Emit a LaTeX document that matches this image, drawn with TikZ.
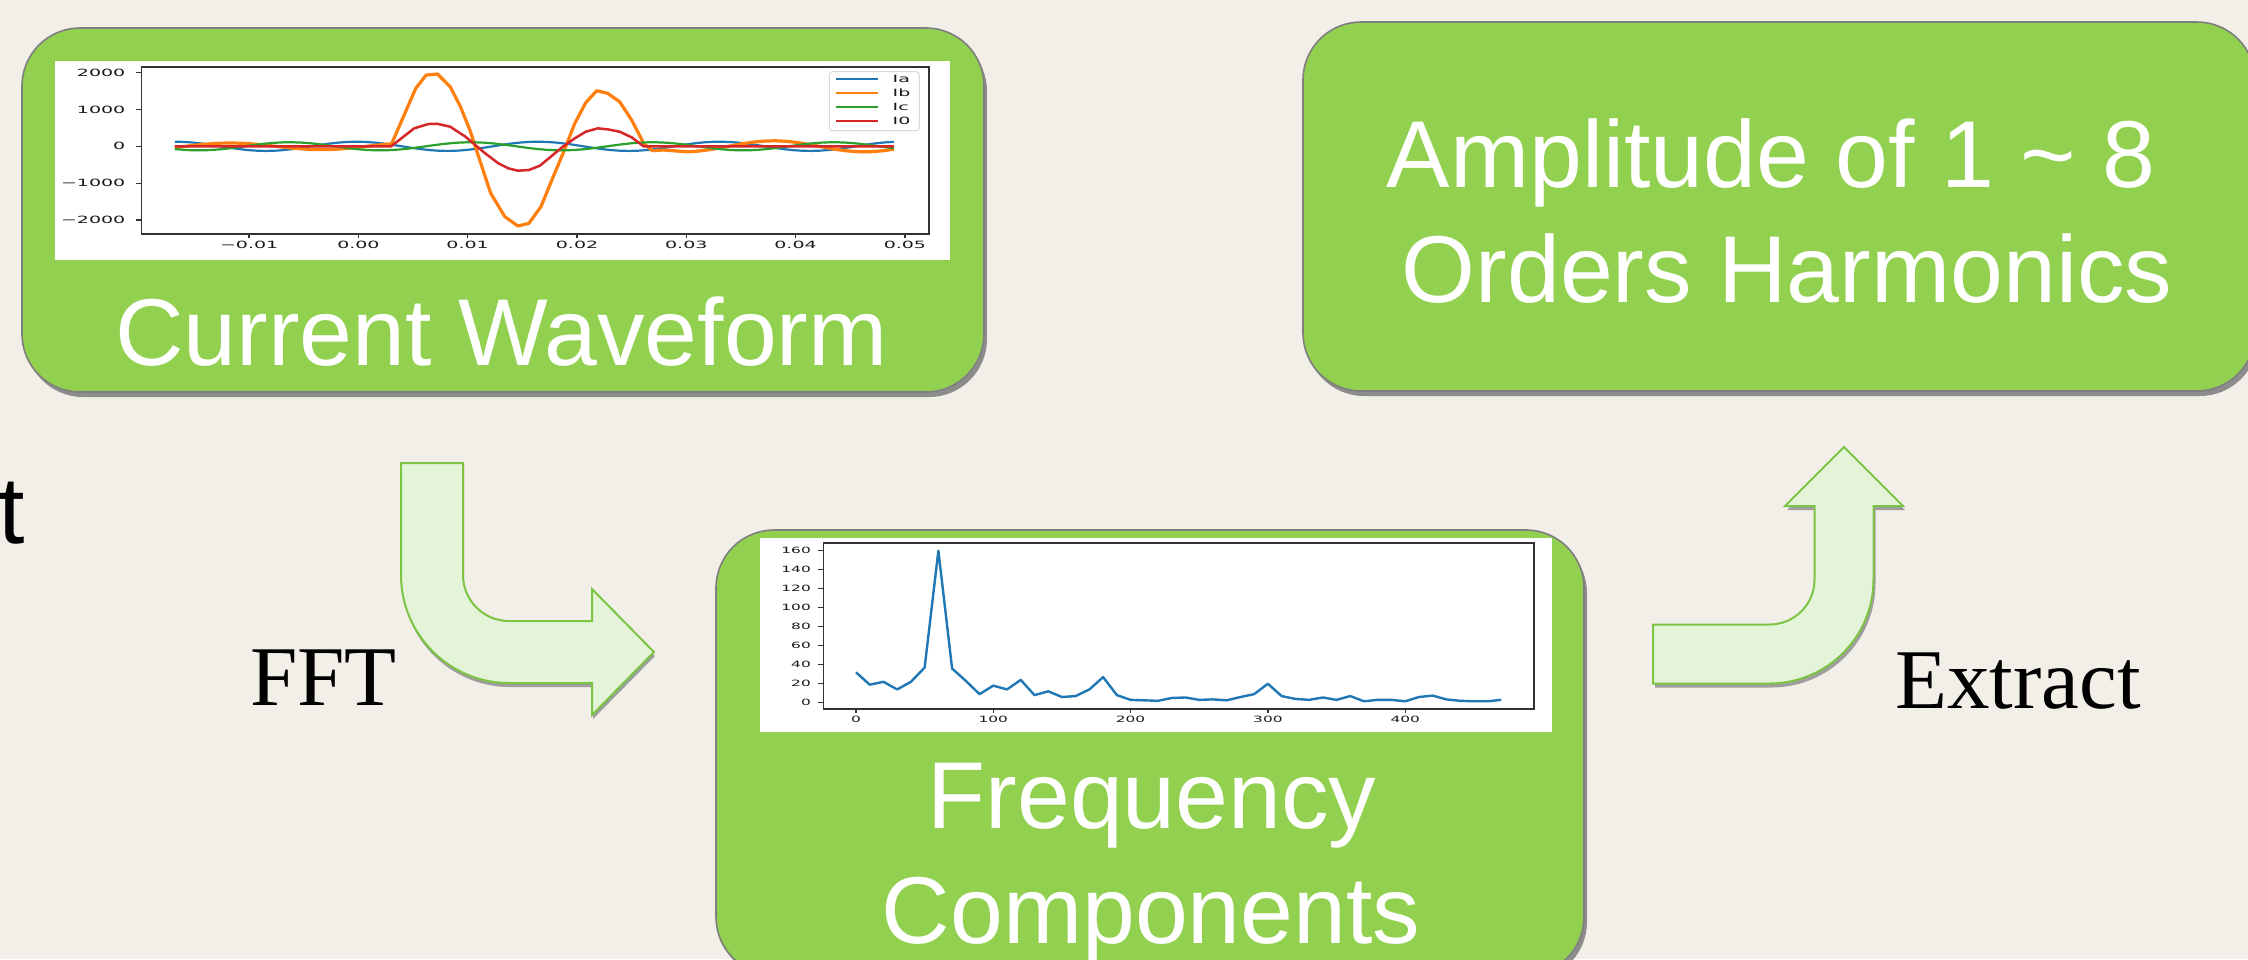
\documentclass[tikz,border=0pt]{standalone}
\usepackage{fontspec}
\setmainfont{Liberation Sans}
\newfontfamily\serifl{Liberation Serif}
\newfontfamily\plotfnt{DejaVu Sans}
\usepackage{graphicx}
\usetikzlibrary{shadows}
\definecolor{bgc}{RGB}{242,239,233}
\definecolor{boxg}{HTML}{92D050}
\definecolor{boxb}{HTML}{7F7F7F}
\definecolor{arrf}{HTML}{E4F4D9}
\definecolor{arrd}{HTML}{7CC443}
\definecolor{mblue}{HTML}{1F77B4}
\definecolor{morange}{HTML}{FF7F0E}
\definecolor{mgreen}{HTML}{2CA02C}
\definecolor{mred}{HTML}{D62728}
\newcommand\wft[1]{\scalebox{1.9}[1]{\plotfnt\fontsize{2.845}{3.2}\selectfont #1}}
\newcommand\fqt[1]{\scalebox{1.78}[1]{\plotfnt\fontsize{2.46}{2.8}\selectfont #1}}
\newcommand\fftpath{(401,463) -- (463,463) -- (463,575) .. controls (463,600.4) and (483.6,621) .. (509,621) -- (592,621) -- (592,589) -- (654,652) -- (592,715) -- (592,683) -- (509,683) .. controls (449.4,683) and (401,634.6) .. (401,575) -- cycle}
\newcommand\extpath{(1653,624.5) -- (1769.5,624.5) .. controls (1794.4,624.5) and (1814.5,604.4) .. (1814.5,579.5) -- (1814.5,506) -- (1785,506) -- (1844,447) -- (1903,506) -- (1873.5,506) -- (1873.5,579.5) .. controls (1873.5,636.9) and (1826.9,683.5) .. (1769.5,683.5) -- (1653,683.5) -- cycle}
\begin{document}
\begin{tikzpicture}[x=0.1mm,y=-0.1mm,
  greenbox/.style={draw=boxb, line width=0.16mm, fill=boxg, rounded corners=5.8mm, inner sep=0, outer sep=0,
     drop shadow={shadow xshift=0.3mm, shadow yshift=-0.5mm, fill=black!45, opacity=1}},
  boxtxt/.style={text=white, font=\fontsize{27.03}{32.72}\selectfont, inner sep=0, anchor=base},
  lbl/.style={font=\serifl\fontsize{24.19}{29}\selectfont, inner sep=0, anchor=base},
  bentarrow/.style={fill=arrf, draw=arrd, line width=0.2mm, line join=miter},
  arrshadow/.style={fill=black!38},
  spine/.style={draw=black!80, line width=0.15mm},
  tick/.style={draw=black!80, line width=0.14mm},
  tl/.style={inner sep=0, text=black!90},
  curve/.style={line width=0.22mm, line join=round},
]
\useasboundingbox (0,0) rectangle (2248,959);
\fill[bgc] (0,0) rectangle (2248,959);

% boxes
\node[greenbox, minimum width=96.2mm, minimum height=36.4mm] (cw) at (503,210) {};
\node[greenbox, minimum width=86.8mm, minimum height=44.5mm] (fc) at (1150,752.5) {};
\node[greenbox, minimum width=95.2mm, minimum height=36.9mm] (ah) at (1779,206.5) {};

% ---- waveform plot ----
\fill[white] (55,61) rectangle (950,260);
\draw[spine] (141.6,67) rectangle (929,234);
\foreach \v/\s [count=\i] in {2000/2000,1000/1000,0/0,-1000/−1000,-2000/−2000}{
  \draw[tick] (135.5,{146.3-0.0369*\v}) -- (141.6,{146.3-0.0369*\v});
  \node[tl, anchor=east] (wy\i) at (126,{146.3-0.0369*\v}) {\wft{\s}};
}
\foreach \t/\s [count=\i] in {-0.01/−0.01,0/0.00,0.01/0.01,0.02/0.02,0.03/0.03,0.04/0.04,0.05/0.05}{
  \draw[tick] ({358.4+10930*\t},234) -- ({358.4+10930*\t},238);
  \node[tl, anchor=north] (wx\i) at ({358.4+10930*\t},240.5) {\wft{\s}};
}
\begin{scope}[shift={(358.4,146.3)}, x=1.093mm, y=0.00369mm]
  \draw[curve, mblue] plot[domain=-16.8:49, samples=80] (\x,{125*cos(21.687*(\x+0.16))});
  \draw[curve, morange, line width=0.32mm] plot[domain=-16.8:3.04, samples=24] (\x,{90*cos(21.687*(\x+11.7))})
    -- plot coordinates {(5.25,1572) (6.2,1932) (7.24,1959) (8.4,1615) (9.34,1073) (10.2,440) (11.1,-371) (12.1,-1268) (13.4,-1908) (14.6,-2160) (15.6,-2087) (16.7,-1637) (17.7,-913) (18.85,-100) (19.8,623) (20.8,1182) (21.8,1507) (22.8,1436) (23.9,1209) (25,713) (26.1,81) (26.9,-119) (27.9,-100)}
    -- plot[domain=30.1:49, samples=22] (\x,{150*cos(21.687*(\x-38))});
  \draw[curve, mgreen] plot[domain=-16.8:49, samples=80] (\x,{110*cos(21.687*(\x+6.3))});
  \draw[curve, mred, line width=0.25mm] plot coordinates {(-16.8,0) (3,0) (5.1,487) (6.4,604) (7.2,612) (8.4,531) (9.8,260) (11.6,-190) (12.8,-460) (13.7,-596) (14.6,-661) (15.6,-642) (16.6,-526) (17.6,-282) (18.7,-11) (19.8,217) (20.8,396) (21.9,487) (22.8,460) (23.9,396) (25,244) (26.1,0) (49,0)};
\end{scope}
% legend
\draw[black!15, fill=white, line width=0.1mm, rounded corners=0.3mm] (829.3,71.7) rectangle (919.3,130.7);
\foreach \c/\s/\yy [count=\i] in {mblue/Ia/79,morange/Ib/93,mgreen/Ic/107,mred/I0/120.7}{
  \draw[\c, line width=0.2mm] (836,\yy) -- (878,\yy);
  \node[tl, anchor=west] (lg\i) at (892,\yy) {\wft{\s}};
}

% ---- frequency plot ----
\fill[white] (760,538) rectangle (1552,732);
\draw[spine] (823.4,543) rectangle (1534,709);
\foreach \v [count=\i] in {0,20,...,160}{
  \draw[tick] (817.7,{702.7-0.95*\v}) -- (823.4,{702.7-0.95*\v});
  \node[tl, anchor=east] (fy\i) at (811.5,{702.7-0.95*\v}) {\fqt{\v}};
}
\foreach \f [count=\i] in {0,100,...,400}{
  \draw[tick] ({856+1.373*\f},709) -- ({856+1.373*\f},713);
  \node[tl, anchor=north] (fx\i) at ({856+1.373*\f},715.5) {\fqt{\f}};
}
\begin{scope}[shift={(856,702.7)}, x=0.1373mm, y=0.095mm]
  \draw[curve, mblue, line width=0.24mm] plot coordinates {(0,32) (10,19) (20,22) (30,14) (40,22) (50,37) (60,160) (70,36) (80,23) (90,9) (100,18) (110,14) (120,24) (130,8) (140,12) (150,6) (160,7) (170,14) (180,27) (190,8) (200,3) (210,2.5) (220,2) (230,5) (240,5.5) (250,3) (260,3.5) (270,2.5) (280,6) (290,9) (300,20) (310,7) (320,4) (330,3) (340,5.5) (350,3) (360,7) (370,1.5) (380,3) (390,3) (400,1.5) (410,6) (420,7.5) (430,3.5) (440,2) (450,1.5) (460,1.5) (470,3)};
\end{scope}

% box texts
\node[boxtxt] (cwt) at (501.5,365) {Current Waveform};
\node[boxtxt] (fct1) at (1152,828.3) {Frequency};
\node[boxtxt] (fct2) at (1151,943) {Components};
\node[boxtxt] (aht1) at (1771,187.7) {Amplitude of 1 \textasciitilde{} 8};
\node[boxtxt] (aht2) at (1787,302.7) {Orders Harmonics};

% left cropped text
\node[inner sep=0, anchor=base west, font=\fontsize{27.03}{32}\selectfont] (tx) at (-2,543) {t};

% arrows
\begin{scope}[shift={(1,4)}] \fill[arrshadow] \fftpath; \end{scope}
\filldraw[bentarrow] \fftpath;
\begin{scope}[shift={(2,4)}] \fill[arrshadow] \extpath; \end{scope}
\filldraw[bentarrow] \extpath;

% labels
\node[lbl] (fftl) at (323.5,705) {FFT};
\node[lbl] (extl) at (2018,708.3) {Extract};
\end{tikzpicture}
\end{document}
